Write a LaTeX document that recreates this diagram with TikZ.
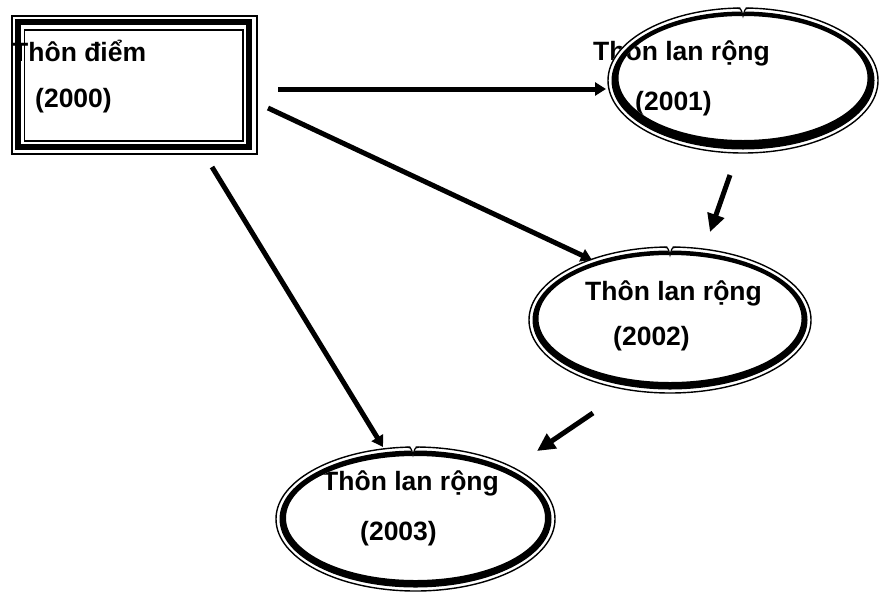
\documentclass[tikz,border=0pt]{standalone}
\usepackage{fontspec}
\setmainfont{Liberation Sans}
\usetikzlibrary{arrows.meta}
\begin{document}
\begin{tikzpicture}[x=1pt,y=-1pt,
  lbl/.style={anchor=base west,inner sep=0pt,font=\fontsize{26.5pt}{30pt}\selectfont\bfseries},
  longarrow/.style={line width=5pt,-{Triangle[width=13pt,length=11pt]}},
  shortarrow/.style={line width=5pt,-{Triangle[width=17pt,length=18pt]}},
  thinline/.style={line width=1.4pt},
  notchline/.style={line width=1.2pt},
  band/.style={fill=black,even odd rule},
  gapfill/.style={fill=white,even odd rule}]
\useasboundingbox (0,0) rectangle (882,592);
% source box
\draw[thinline] (12,16) rectangle (257,154);
\draw[line width=6pt] (18,21.5) rectangle (248.5,146.5);
\draw[thinline] (24.5,30) rectangle (243,141);
% texts
\node[lbl] (t0a) at (12,61) {Thôn điểm};
\node[lbl] (t0b) at (35,107) {(2000)};
\node[lbl] (t1a) at (593,60) {Thôn lan rộng};
\node[lbl] (t1b) at (635,110) {(2001)};
\node[lbl] (t2a) at (585,300) {Thôn lan rộng};
\node[lbl] (t2b) at (613,345) {(2002)};
\node[lbl] (t3a) at (322,490) {Thôn lan rộng};
\node[lbl] (t3b) at (360,540) {(2003)};
% ellipse 1 (2001)
\path[gapfill] (743,80.5) ellipse [x radius=135.7pt, y radius=73.2pt] (743,78) ellipse [x radius=124.5pt, y radius=62pt];
\path[band] (743,80.5) ellipse [x radius=131.5pt, y radius=69pt] (743,78) ellipse [x radius=124.5pt, y radius=62pt];
\draw[thinline] (743,80.5) ellipse [x radius=135pt, y radius=72.5pt];
\fill[white] (740,6) -- (746,6) -- (743,17) -- cycle;
\draw[notchline] (737,8.3) .. controls (741,8.5) .. (743,16) .. controls (745,8.5) .. (749,8.3);
% ellipse 2 (2002)
\path[gapfill] (670,320) ellipse [x radius=141.7pt, y radius=73.7pt] (670,318.5) ellipse [x radius=131.5pt, y radius=63.5pt];
\path[band] (670,320) ellipse [x radius=137.5pt, y radius=69.5pt] (670,318.5) ellipse [x radius=131.5pt, y radius=63.5pt];
\draw[thinline] (670,320) ellipse [x radius=141pt, y radius=73pt];
\fill[white] (667,245) -- (673,245) -- (670,256) -- cycle;
\draw[notchline] (664,247.3) .. controls (668,247.5) .. (670,255) .. controls (672,247.5) .. (676,247.3);
% ellipse 3 (2003)
\path[gapfill] (415.5,519) ellipse [x radius=140.2pt, y radius=72.7pt] (415.5,518) ellipse [x radius=129.5pt, y radius=62pt];
\path[band] (415.5,519) ellipse [x radius=136pt, y radius=68.5pt] (415.5,518) ellipse [x radius=129.5pt, y radius=62pt];
\draw[thinline] (415.5,519) ellipse [x radius=139.5pt, y radius=72pt];
\fill[white] (410,445) -- (416,445) -- (413,456) -- cycle;
\draw[notchline] (407,447.3) .. controls (411,447.5) .. (413,455) .. controls (415,447.5) .. (419,447.3);
% arrow end points
\coordinate (a1s) at (278,89);
\coordinate (a1e) at (606,89);
\coordinate (a2s) at (268,108);
\coordinate (a2e) at (592,260);
\coordinate (a3s) at (212,167);
\coordinate (a3e) at (383,447);
\coordinate (a4s) at (730,175);
\coordinate (a4e) at (710,232);
\coordinate (a5s) at (593,413);
\coordinate (a5e) at (537,451);
\draw[longarrow] (a1s) -- (a1e);
\draw[longarrow] (a2s) -- (a2e);
\draw[longarrow] (a3s) -- (a3e);
\draw[shortarrow] (a4s) -- (a4e);
\draw[shortarrow] (a5s) -- (a5e);
\end{tikzpicture}
\end{document}
